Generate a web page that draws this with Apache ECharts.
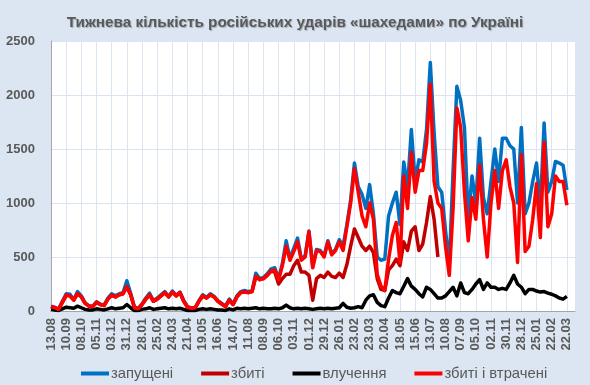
<!DOCTYPE html>
<html><head><meta charset="utf-8">
<script src="https://cdn.jsdelivr.net/npm/echarts@6/dist/echarts.min.js"></script>
<style>html,body{margin:0;padding:0;background:#dce6f2;}#c{width:590px;height:385px;}</style>
</head><body><div id="c"></div>
<script>
const tickLabels = ['13.08','10.09','08.10','05.11','03.12','31.12','28.01','25.02','24.03','21.04','19.05','16.06','14.07','11.08','08.09','06.10','03.11','01.12','29.12','26.01','23.02','23.03','20.04','18.05','15.06','13.07','10.08','07.09','05.10','02.11','30.11','28.12','25.01','22.02','22.03'];
// one value per week, starting 13.08.2023
const launched = [45,35,18,90,160,155,105,180,140,75,
48,45,85,62,55,120,160,140,160,170,
280,165,35,25,65,120,165,95,120,150,
180,135,185,145,175,95,40,28,32,95,
150,125,160,135,95,70,45,110,65,140,
180,190,180,185,350,300,310,345,390,400,
300,440,650,490,580,675,480,510,740,410,
570,560,510,650,530,570,660,600,800,1030,
1370,1150,1080,950,1170,900,500,470,480,880,
1000,1100,800,1380,1150,1680,1200,1400,1380,1680,
2300,1650,1150,1100,750,420,1300,2080,1950,1700,
850,1250,1000,1600,1050,900,1200,1500,1200,1600,
1600,1530,1500,1000,1700,900,1000,1200,1370,950,
1740,1100,1200,1385,1370,1350,1120];
const downedLost = [40,30,15,80,145,140,100,160,130,70,
45,40,80,60,50,110,145,130,150,160,
225,150,30,20,60,110,150,90,110,140,
170,130,175,140,170,90,35,25,30,90,
140,120,150,130,90,65,40,100,60,130,
170,175,170,180,320,290,300,330,370,380,
290,420,600,470,550,640,470,500,735,400,
560,550,500,640,520,560,640,560,780,1000,
1320,1100,880,780,1000,850,340,230,190,480,
700,820,450,1250,950,1470,1100,1300,1300,1550,
2100,1200,1000,950,600,330,950,1880,1700,1100,
650,1050,850,1350,850,500,1000,1300,950,1300,
1400,1150,1000,450,1450,550,600,850,1180,680,
1560,780,900,1250,1200,1200,980];
const downed = [40,30,15,80,145,140,100,160,130,70,
45,40,80,60,50,110,145,130,150,160,
225,150,30,20,60,110,150,90,110,140,
170,130,175,140,170,90,35,25,30,90,
140,120,150,130,90,65,40,100,60,130,
170,175,170,180,320,290,300,330,370,360,
250,300,340,340,420,470,360,360,330,100,
300,330,310,360,320,310,350,310,430,600,
760,680,600,560,600,540,300,200,190,380,
420,480,420,640,560,740,780,560,620,820,
1060,850,500];
const hits = [15,10,5,20,35,30,25,45,30,15,
10,10,20,15,10,20,30,20,25,30,
60,30,5,5,15,20,30,15,20,25,
30,20,25,20,25,15,5,5,5,15,
20,15,20,15,10,10,5,20,10,25,
20,25,20,25,30,20,25,20,20,25,
20,30,55,30,20,25,20,25,20,15,
20,25,20,25,20,25,30,70,35,25,
30,40,30,100,140,150,80,50,40,120,
190,170,160,230,300,230,200,160,130,220,
200,160,120,120,140,180,220,140,260,170,
160,200,250,290,200,260,220,220,200,210,
200,260,330,250,220,160,200,200,185,175,
180,165,155,140,120,110,135];

const toPairs = arr => arr.map((v, i) => [i * 7, v]);
const grey = '#595959';
const chart = echarts.init(document.getElementById('c'), null, {renderer: 'canvas'});
const mk = (name, data, color) => ({
  name, type: 'line', data: toPairs(data), showSymbol: false, symbol: 'none',
  lineStyle: {color, width: 3.5, join: 'round'}, itemStyle: {color}, animation: false
});
chart.setOption({
  backgroundColor: '#dce6f2',
  animation: false,
  title: {
    text: 'Тижнева кількість російських ударів «шахедами» по Україні',
    left: 'center', top: 10,
    textStyle: {fontFamily: 'Liberation Sans Narrow, Arial Narrow, Liberation Sans, Arial', fontSize: 15.3, fontWeight: 'bold', color: grey,
      textShadowColor: 'rgba(0,0,0,0.25)', textShadowBlur: 1, textShadowOffsetX: 1, textShadowOffsetY: 1}
  },
  grid: {left: 51, right: 15, top: 41, bottom: 74, show: true, backgroundColor: '#ffffff', borderWidth: 0},
  legend: {
    left: 76, top: 361, icon: 'rect', itemWidth: 28, itemHeight: 4, itemGap: 28,
    textStyle: {fontFamily: 'Liberation Sans, Arial', fontSize: 14.8, color: grey, padding: [0,0,0,-3]},
    data: ['запущені', 'збиті', 'влучення', 'збиті і втрачені']
  },
  xAxis: {
    type: 'value', min: 0, max: 967, interval: 28,
    axisLine: {show: true, lineStyle: {color: '#a6a6a6', width: 1}},
    axisTick: {show: false},
    splitLine: {show: true, lineStyle: {color: '#dbe4f0', width: 1}},
    axisLabel: {
      rotate: 90, margin: 7, showMaxLabel: false,
      fontFamily: 'Liberation Sans, Arial', fontSize: 13, fontWeight: 'bold', color: grey,
      formatter: v => tickLabels[Math.round(v / 28)] || ''
    }
  },
  yAxis: {
    type: 'value', min: 0, max: 2500, interval: 500,
    axisLine: {show: true, lineStyle: {color: '#a6a6a6', width: 1}},
    axisTick: {show: false},
    splitLine: {show: true, lineStyle: {color: '#dbe4f0', width: 1}},
    axisLabel: {margin: 16, fontFamily: 'Liberation Sans, Arial', fontSize: 13, fontWeight: 'bold', color: grey,
      formatter: v => String(v)}
  },
  series: [
    mk('запущені', launched, '#0070c0'),
    mk('збиті', downed, '#c00000'),
    mk('влучення', hits, '#000000'),
    mk('збиті і втрачені', downedLost, '#ff0000')
  ]
});
</script></body></html>
